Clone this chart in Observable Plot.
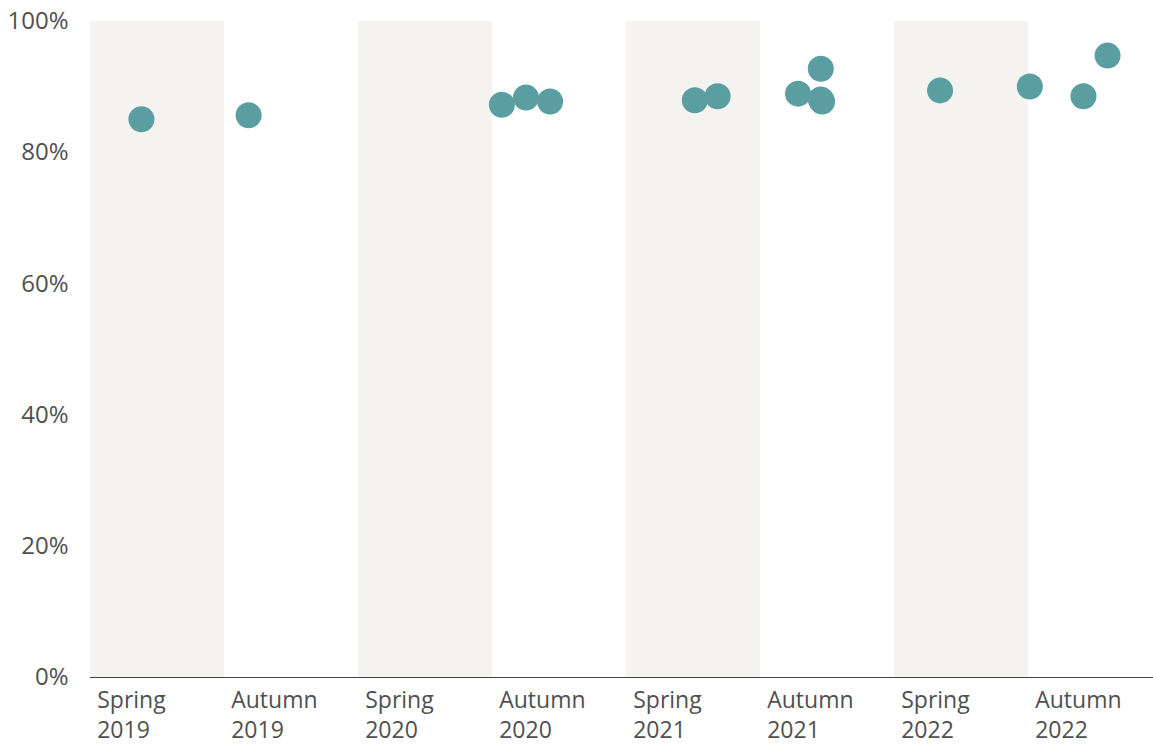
<!DOCTYPE html>
<html>
<head>
<meta charset="utf-8">
<script src="https://cdn.jsdelivr.net/npm/d3@7"></script>
<script src="https://cdn.jsdelivr.net/npm/@observablehq/plot@0.6"></script>
<style>
  html, body { margin: 0; padding: 0; background: #fff; }
  #chart { width: 1153px; height: 745px; }
  svg { font-family: "Open Sans", Lato, sans-serif; font-weight: 400; }
</style>
</head>
<body>
<div id="chart"></div>
<script>
// Periods (x categories)
const periods = ["Spring\n2019", "Autumn\n2019", "Spring\n2020", "Autumn\n2020",
                 "Spring\n2021", "Autumn\n2021", "Spring\n2022", "Autumn\n2022"];
const springIdx = [0, 2, 4, 6];

// Points: period index, position within period (fraction), value (share)
const pointPeriod = [0, 1, 3, 3, 3, 4, 4, 5, 5, 5, 5, 6, 7, 7, 7];
const pointOffset = [0.38, 0.18, 0.07, 0.25, 0.43, 0.51, 0.68, 0.28, 0.45, 0.45, 0.46, 0.34, 0.01, 0.41, 0.59];
const pointValue  = [0.851, 0.857, 0.873, 0.884, 0.878, 0.880, 0.886, 0.890, 0.928, 0.881, 0.878, 0.895, 0.901, 0.886, 0.948];

const yTicks = [0, 0.2, 0.4, 0.6, 0.8, 1.0];

const points = pointPeriod.map((p, i) => ({x: p + pointOffset[i], y: pointValue[i]}));
const bands = springIdx.map(i => ({x1: i, x2: i + 1}));
const labels = periods.map((t, i) => ({x: i, text: t}));

const textColor = "#505050";

const chart = Plot.plot({
  width: 1153,
  height: 745,
  marginTop: 21,
  marginBottom: 68,
  marginLeft: 90,
  marginRight: 0,
  x: {domain: [0, 1063 / 134], axis: null},
  y: {domain: [0, 1], axis: null},
  marks: [
    Plot.rect(bands, {x1: "x1", x2: "x2", y1: 0, y2: 1, fill: "#f4f3ef"}),
    Plot.ruleY([0], {stroke: "#444", strokeWidth: 1.2}),
    Plot.axisY({
      ticks: yTicks, tickSize: 0, tickPadding: 22, label: null,
      tickFormat: d => Math.round(d * 100) + "%",
      fontSize: 24, color: textColor
    }),
    Plot.text(labels, {
      x: d => d.x + 0.05, y: 0, text: "text",
      textAnchor: "start", lineAnchor: "top", dy: 9,
      fontSize: 23, lineHeight: 1.3, fill: textColor
    }),
    Plot.dot(points, {x: "x", y: "y", r: 13, fill: "#5b9ea2", stroke: "none"})
  ]
});
document.getElementById("chart").appendChild(chart);
</script>
</body>
</html>
